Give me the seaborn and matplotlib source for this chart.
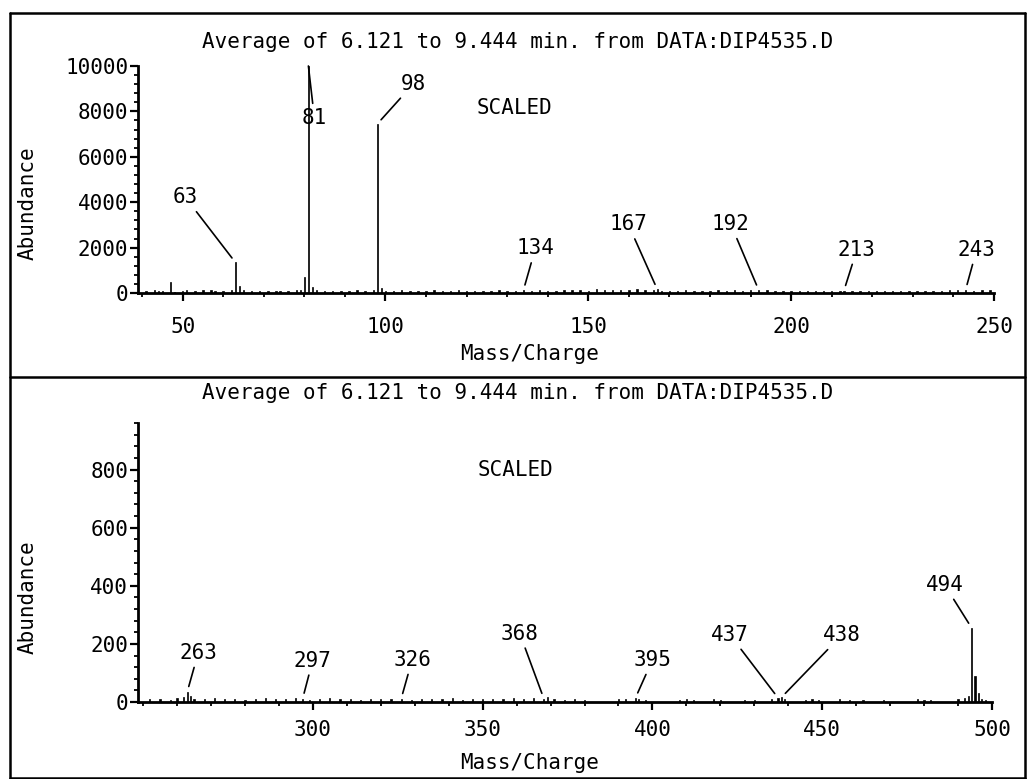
import matplotlib
matplotlib.use("Agg")
import matplotlib.pyplot as plt
import seaborn as sns
from matplotlib.lines import Line2D
from matplotlib.ticker import MultipleLocator

# ---------------- data ----------------
title_text = "Average of 6.121 to 9.444 min. from DATA:DIP4535.D"

top_mz = [41, 43, 44, 45, 47, 48, 50, 51, 53, 55, 57, 58, 60, 62, 63, 64, 65, 67, 69, 71,
          73, 74, 76, 78, 79, 80, 81, 82, 83, 85, 87, 89, 91, 93, 95, 97, 98, 99, 100, 102,
          104, 106, 108, 110, 112, 114, 116, 118, 120, 122, 124, 126, 128, 130, 132, 134, 136,
          138, 140, 142, 144, 146, 148, 150, 152, 154, 156, 158, 160, 162, 164, 166, 167, 168,
          170, 172, 174, 176, 178, 180, 182, 184, 186, 188, 190, 192, 194, 196, 198, 200, 202,
          204, 206, 208, 210, 212, 213, 215, 217, 219, 221, 223, 225, 227, 229, 231, 233, 235,
          237, 239, 241, 243, 245, 247, 249]
top_ab = [90, 120, 80, 100, 480, 60, 110, 140, 90, 120, 150, 70, 100, 130, 1350, 300, 120, 90, 110, 80,
          100, 70, 90, 120, 150, 700, 10000, 250, 120, 100, 90, 110, 80, 120, 90, 150, 7450, 200, 110, 90,
          120, 80, 100, 90, 130, 100, 80, 120, 90, 110, 100, 80, 130, 90, 110, 120, 90,
          130, 100, 110, 150, 120, 130, 90, 160, 140, 120, 150, 130, 170, 140, 150, 160, 110,
          90, 100, 120, 90, 110, 100, 130, 90, 120, 110, 140, 130, 120, 90, 100, 80, 110,
          90, 100, 80, 90, 110, 100, 80, 90, 70, 100, 80, 90, 110, 80, 90, 100, 80,
          110, 120, 130, 140, 110, 150, 120]

bot_mz = [252, 255, 258, 260, 262, 263, 264, 265, 268, 271, 274, 277, 280, 283, 286, 289, 292, 295,
          297, 299, 302, 305, 308, 311, 314, 317, 320, 323, 326, 329, 332, 335, 338, 341, 344, 347,
          350, 353, 356, 359, 362, 365, 368, 369, 371, 374, 377, 380, 390, 392, 395, 396, 398, 408,
          410, 412, 418, 420, 427, 430, 435, 437, 438, 439, 445, 447, 449, 455, 458, 462, 468, 478,
          480, 482, 490, 492, 493, 494, 495, 496, 497, 498]
bot_ab = [10, 12, 8, 15, 18, 35, 22, 12, 10, 14, 9, 12, 8, 10, 13, 9, 11, 14,
          12, 8, 10, 13, 9, 11, 8, 12, 10, 9, 11, 8, 12, 10, 9, 13, 8, 11,
          9, 12, 10, 13, 11, 14, 12, 16, 9, 8, 10, 7, 9, 11, 14, 10, 8, 8,
          10, 7, 9, 8, 7, 6, 10, 14, 16, 10, 8, 10, 7, 9, 6, 8, 7, 9,
          8, 7, 10, 14, 20, 255, 90, 32, 12, 8]

top_labels = [63, 81, 98, 134, 167, 192, 213, 243]
bot_labels = [263, 297, 326, 368, 395, 437, 438, 494]

top_yticks = [0, 2000, 4000, 6000, 8000, 10000]
bot_yticks = [0, 200, 400, 600, 800]
top_xticks = [50, 100, 150, 200, 250]
bot_xticks = [300, 350, 400, 450, 500]

# label offsets (pixels, from peak) -- layout only
top_offsets = {63: (-50, 65), 81: (6, -52), 98: (36, 40), 134: (12, 42),
               167: (-29, 65), 192: (-28, 66), 213: (13, 41), 243: (11, 40)}
bot_offsets = {263: (11, 39), 297: (10, 38), 326: (11, 39), 368: (-24, 65),
               395: (17, 38), 437: (-48, 63), 438: (60, 62), 494: (-27, 43)}

# ---------------- style ----------------
sns.set_style("ticks")
plt.rcParams['font.family'] = ['DejaVu Sans Mono', 'DejaVu Sans']
for k in ['text.color', 'axes.labelcolor', 'xtick.color', 'ytick.color', 'axes.edgecolor']:
    plt.rcParams[k] = 'black'
FS = 15
W, H = 1028, 779

fig = plt.figure(figsize=(W / 100, H / 100), dpi=100)
ax1 = fig.add_axes([138 / W, 1 - 293 / H, 856 / W, 227 / H])
ax2 = fig.add_axes([138 / W, 1 - 702 / H, 854 / W, 279 / H])


def draw_panel(ax, mz, ab, xlim, ylim, xticks, yticks, yminor, labels, offsets,
               title_y, ylab_xy, xlab_xy, scaled_xy, xpad):
    sns.histplot(x=mz, weights=ab, discrete=True, shrink=0.35, color='black',
                 edgecolor='black', linewidth=0.5, alpha=1, ax=ax)
    ax.set_xlim(*xlim)
    ax.set_ylim(*ylim)
    ax.set_xticks(xticks)
    ax.set_yticks(yticks)
    ax.xaxis.set_minor_locator(MultipleLocator(10))
    ax.yaxis.set_minor_locator(MultipleLocator(yminor))
    ax.tick_params(axis='both', which='major', length=6, width=1.6, labelsize=FS,
                   color='black', labelcolor='black')
    ax.tick_params(axis='both', which='minor', length=3, width=1.3, color='black')
    ax.tick_params(axis='x', which='major', pad=xpad)
    ax.tick_params(axis='y', which='major', pad=1)
    for s in ['top', 'right']:
        ax.spines[s].set_visible(False)
    for s in ['left', 'bottom']:
        ax.spines[s].set_linewidth(2)
        ax.spines[s].set_color('black')
    ax.set_ylabel("Abundance", fontsize=FS, color='black')
    ax.yaxis.set_label_coords(*ylab_xy)
    ax.yaxis.label.set_verticalalignment('center')
    ax.set_xlabel("Mass/Charge", fontsize=FS, color='black')
    ax.xaxis.set_label_coords(*xlab_xy)
    ax.xaxis.label.set_verticalalignment('center')
    ax.text(0.444, title_y, title_text, transform=ax.transAxes, ha='center', va='center',
            fontsize=FS, color='black')
    ax.text(scaled_xy[0], scaled_xy[1], "SCALED", transform=ax.transAxes, ha='center',
            va='center', fontsize=FS, color='black')
    lookup = dict(zip(mz, ab))
    for m in labels:
        dx, dy = offsets[m]
        yv = min(lookup[m], ylim[1])
        ax.annotate(str(m), xy=(m, yv), xytext=(dx, dy), textcoords='offset pixels',
                    ha='center', va='center', fontsize=FS, color='black',
                    arrowprops=dict(arrowstyle='-', color='black', lw=1.2,
                                    shrinkA=1, shrinkB=0 if m == 81 else 4),
                    annotation_clip=False)


draw_panel(ax1, top_mz, top_ab, (39, 250), (0, 10000), top_xticks, top_yticks, 400,
           top_labels, top_offsets, 1.106, (-0.1285, 0.396), (0.458, -0.269),
           (0.4404, 0.815), 11)
draw_panel(ax2, bot_mz, bot_ab, (248.5, 500), (0, 960), bot_xticks, bot_yticks, 40,
           bot_labels, bot_offsets, 1.1075, (-0.129, 0.376), (0.459, -0.219),
           (0.4415, 0.8315), 7)

# panel frames
lw = 1.8
x0, x1 = 10 / W, 1025 / W
y_top, y_mid, y_bot = 1 - 13 / H, 1 - 377 / H, 1 - 778 / H
for (xa, ya), (xb, yb) in [((x0, y_top), (x1, y_top)), ((x0, y_mid), (x1, y_mid)),
                           ((x0, y_bot), (x1, y_bot)), ((x0, y_bot), (x0, y_top)),
                           ((x1, y_bot), (x1, y_top))]:
    fig.add_artist(Line2D([xa, xb], [ya, yb], transform=fig.transFigure, color='black', lw=lw))

fig.savefig("out.png", dpi=100, facecolor='white')
